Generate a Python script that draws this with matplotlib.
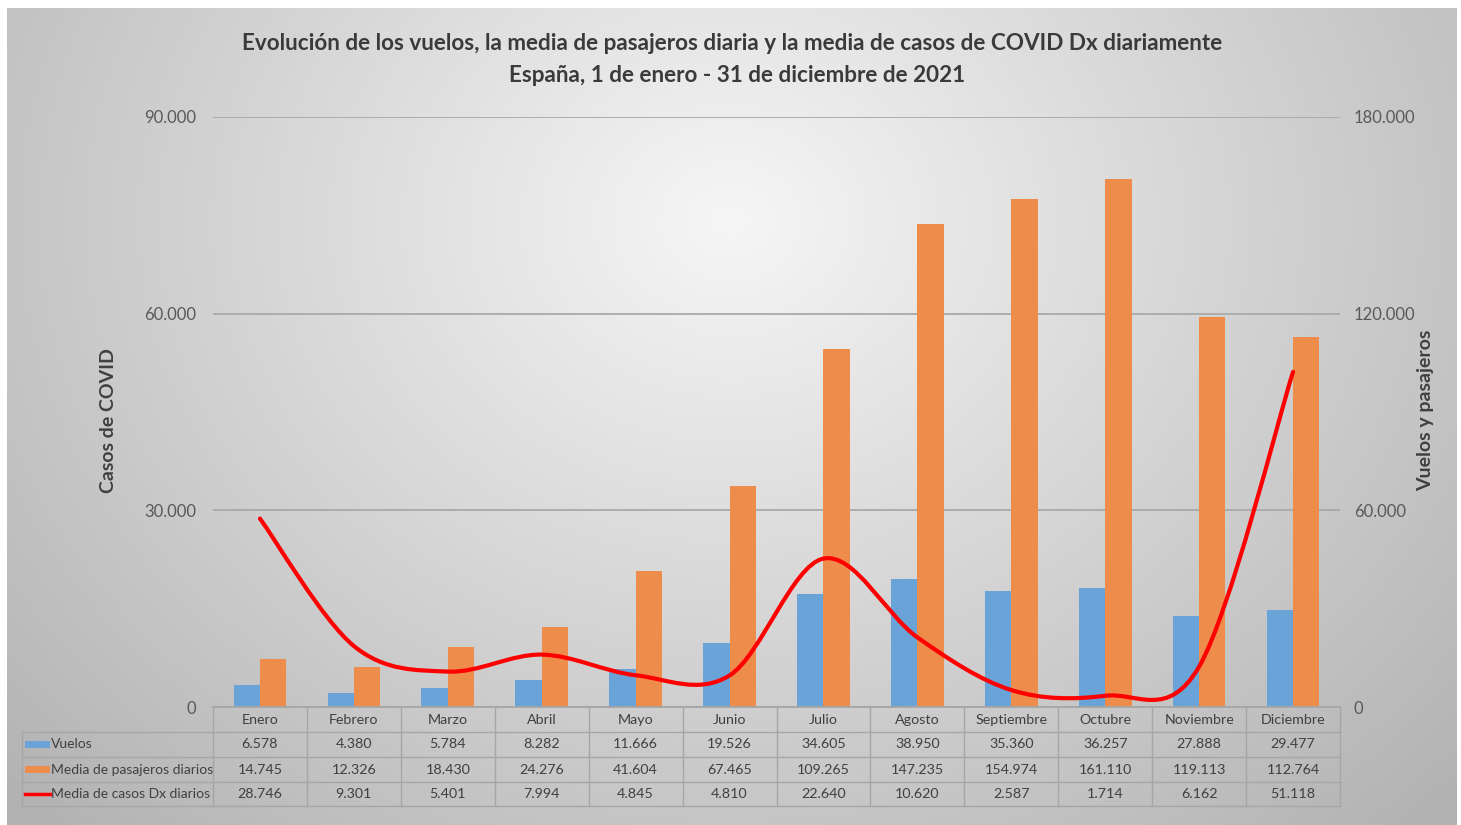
import numpy as np
import matplotlib.pyplot as plt
from matplotlib.path import Path
from matplotlib.patches import PathPatch, Rectangle

# datos 2021
meses = ["Enero", "Febrero", "Marzo", "Abril", "Mayo", "Junio", "Julio",
         "Agosto", "Septiembre", "Octubre", "Noviembre", "Diciembre"]
vuelos = [6578, 4380, 5784, 8282, 11666, 19526, 34605, 38950, 35360, 36257, 27888, 29477]
pasajeros = [14745, 12326, 18430, 24276, 41604, 67465, 109265, 147235, 154974, 161110, 119113, 112764]
casos = [28746, 9301, 5401, 7994, 4845, 4810, 22640, 10620, 2587, 1714, 6162, 51118]

ticks_izq = [0, 30000, 60000, 90000]
ticks_der = [0, 60000, 120000, 180000]

series = ["Vuelos", "Media de pasajeros diarios", "Media de casos Dx diarios"]

C_AZUL = "#6aa3d8"
C_NARANJA = "#ee8c4c"
C_ROJO = "#ff0000"
C_TXT = "#404040"
C_BORDE = "#a6a6a6"

W, H = 1461, 825
AX_L, AX_R, AX_T, AX_B = 213, 1340, 117, 707
TAB_L = 22
ROWS = [707, 732, 757, 782, 806]


def fmt(v):
    return f"{v:,}".replace(",", ".")


plt.rcParams['font.family'] = ['Lato', 'DejaVu Sans']

fig = plt.figure(figsize=(W / 100, H / 100), dpi=100)
fig.patch.set_facecolor("#cdcdcd")

# fondo con degradado radial
bg = fig.add_axes([0, 0, 1, 1], zorder=-10)
yy, xx = np.mgrid[0:H, 0:W]
r = np.sqrt(((xx - 730) / 900.0) ** 2 + ((yy - 220) / 760.0) ** 2)
g = np.clip(0.965 - 0.24 * r, 0.7, 1.0)
img = np.dstack([g, g, g])
img[:8, :] = 1.0
img[:, :7] = 1.0
img[:, 1457:] = 1.0
bg.imshow(img, extent=[0, W, H, 0], aspect="auto", interpolation="nearest")
bg.set_xlim(0, W)
bg.set_ylim(H, 0)
bg.axis("off")

# ejes: barras en escala derecha, linea en escala izquierda
rect = [AX_L / W, 1 - AX_B / H, (AX_R - AX_L) / W, (AX_B - AX_T) / H]
axb = fig.add_axes(rect)
axl = axb.twinx()

x = np.arange(len(meses))
bw = 0.28
axb.bar(x - bw / 2, vuelos, bw, color=C_AZUL, zorder=2)
axb.bar(x + bw / 2, pasajeros, bw, color=C_NARANJA, zorder=2)
axb.set_xlim(-0.5, len(meses) - 0.5)
axb.set_ylim(0, 180000)
axb.set_yticks(ticks_der)
axb.set_yticklabels([fmt(t) for t in ticks_der])
axb.yaxis.tick_right()
axb.set_xticks([])
axb.grid(axis="y", color="#a9a9a9", lw=1.3)
axb.set_axisbelow(True)
axb.patch.set_visible(False)
axb.tick_params(axis="y", length=0, pad=10, labelsize=12, labelcolor="#595959")

# linea suavizada (bezier tipo Excel)
pts = np.column_stack([x, casos]).astype(float)
verts = [pts[0]]
codes = [Path.MOVETO]
for i in range(len(pts) - 1):
    p0 = pts[i - 1] if i > 0 else pts[i]
    p1, p2 = pts[i], pts[i + 1]
    p3 = pts[i + 2] if i + 2 < len(pts) else pts[i + 1]
    verts += [p1 + (p2 - p0) / 6.0, p2 - (p3 - p1) / 6.0, p2]
    codes += [Path.CURVE4] * 3
axl.add_patch(PathPatch(Path(verts, codes), fc="none", ec=C_ROJO, lw=3, capstyle="round"))
axl.set_ylim(0, 90000)
axl.set_yticks(ticks_izq)
axl.set_yticklabels([fmt(t) for t in ticks_izq])
axl.yaxis.tick_left()
axl.tick_params(axis="y", length=0, pad=12, labelsize=12, labelcolor="#595959")

for a in (axb, axl):
    for s in a.spines.values():
        s.set_visible(False)

# titulos
fig.text(732 / W, 1 - 44 / H,
         "Evolución de los vuelos, la media de pasajeros diaria y la media de casos de COVID Dx diariamente",
         ha="center", va="center", fontsize=16.2, fontweight="bold", color="#3a3a3a")
fig.text(737 / W, 1 - 75 / H, "España, 1 de enero - 31 de diciembre de 2021",
         ha="center", va="center", fontsize=16.2, fontweight="bold", color="#3a3a3a")
fig.text(108 / W, 1 - 421 / H, "Casos de COVID", rotation=90, ha="center", va="center",
         fontsize=14, fontweight="bold", color=C_TXT)
fig.text(1426 / W, 1 - 410 / H, "Vuelos y pasajeros", rotation=90, ha="center", va="center",
         fontsize=14, fontweight="bold", color=C_TXT)

# tabla de datos
tab = fig.add_axes([0, 0, 1, 1], zorder=5)
tab.set_xlim(0, W)
tab.set_ylim(H, 0)
tab.axis("off")
cw = (AX_R - AX_L) / len(meses)

tab.plot([AX_L, AX_R], [ROWS[0], ROWS[0]], color=C_BORDE, lw=1.3)
for yv in ROWS[1:]:
    tab.plot([TAB_L, AX_R], [yv, yv], color=C_BORDE, lw=1)
tab.plot([TAB_L, TAB_L], [ROWS[1], ROWS[-1]], color=C_BORDE, lw=1)
for i in range(len(meses) + 1):
    xv = AX_L + i * cw
    tab.plot([xv, xv], [ROWS[0], ROWS[-1]], color=C_BORDE, lw=1)

for i, m in enumerate(meses):
    xc = AX_L + (i + 0.5) * cw
    tab.text(xc, (ROWS[0] + ROWS[1]) / 2, m, ha="center", va="center", fontsize=10.3, color=C_TXT)
    for j, vals in enumerate([vuelos, pasajeros, casos]):
        tab.text(xc, (ROWS[j + 1] + ROWS[j + 2]) / 2, fmt(vals[i]), ha="center", va="center",
                 fontsize=10.3, color=C_TXT)

for j, nombre in enumerate(series):
    yc = (ROWS[j + 1] + ROWS[j + 2]) / 2
    if j < 2:
        tab.add_patch(Rectangle((25, yc - 3.5), 25, 7, color=[C_AZUL, C_NARANJA][j], lw=0))
    else:
        tab.plot([25, 50], [yc, yc], color=C_ROJO, lw=2.5)
    tab.text(51, yc, nombre, ha="left", va="center", fontsize=10, color=C_TXT)

fig.savefig("out.png", dpi=100, facecolor=fig.get_facecolor())
